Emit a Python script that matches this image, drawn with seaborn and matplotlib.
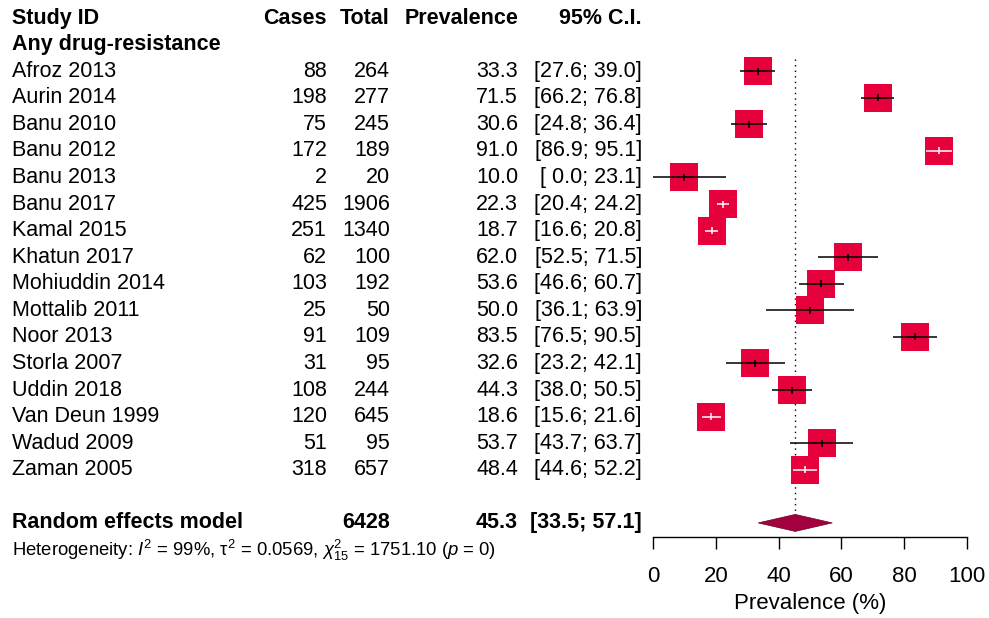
import matplotlib
matplotlib.use("Agg")
import matplotlib.pyplot as plt
import matplotlib.transforms as mtransforms
from matplotlib.patches import Polygon
import pandas as pd
import seaborn as sns

# ── Data ──────────────────────────────────────────────────────────────────
studies = [
    "Afroz 2013", "Aurin 2014", "Banu 2010", "Banu 2012", "Banu 2013",
    "Banu 2017", "Kamal 2015", "Khatun 2017", "Mohiuddin 2014",
    "Mottalib 2011", "Noor 2013", "Storla 2007", "Uddin 2018",
    "Van Deun 1999", "Wadud 2009", "Zaman 2005",
]
cases = [88, 198, 75, 172, 2, 425, 251, 62, 103, 25, 91, 31, 108, 120, 51, 318]
totals = [264, 277, 245, 189, 20, 1906, 1340, 100, 192, 50, 109, 95, 244, 645, 95, 657]
prevalence = [33.3, 71.5, 30.6, 91.0, 10.0, 22.3, 18.7, 62.0, 53.6, 50.0,
              83.5, 32.6, 44.3, 18.6, 53.7, 48.4]
ci_low = [27.6, 66.2, 24.8, 86.9, 0.0, 20.4, 16.6, 52.5, 46.6, 36.1,
          76.5, 23.2, 38.0, 15.6, 43.7, 44.6]
ci_high = [39.0, 76.8, 36.4, 95.1, 23.1, 24.2, 20.8, 71.5, 60.7, 63.9,
           90.5, 42.1, 50.5, 21.6, 63.7, 52.2]

re_total = 6428
re_est = 45.3
re_low = 33.5
re_high = 57.1
het_text = ("Heterogeneity: $\\mathit{I}^2$ = 99%, τ$^2$ = 0.0569, "
            "$\\chi^2_{15}$ = 1751.10 ($\\mathit{p}$ = 0)")
x_ticks = [0, 20, 40, 60, 80, 100]

SQUARE = "#E6003C"
DIAMOND = "#A3003F"

# ── Layout ────────────────────────────────────────────────────────────────
sns.set_theme(style="white")
plt.rcParams["font.family"] = ["Liberation Sans", "DejaVu Sans"]
plt.rcParams["mathtext.fontset"] = "custom"
plt.rcParams["mathtext.rm"] = "Liberation Sans"
plt.rcParams["mathtext.it"] = "Liberation Sans:italic"
for key in ["text.color", "axes.labelcolor", "xtick.color", "ytick.color"]:
    plt.rcParams[key] = "black"

W, H = 989, 618
fig = plt.figure(figsize=(W / 100, H / 100), dpi=100)
ax = fig.add_axes([653 / W, 1 - 537 / H, 314 / W, 537 / H])
ax.set_xlim(0, 100)
ax.set_ylim(19.53, -0.68)

df = pd.DataFrame({
    "study": studies, "cases": cases, "total": totals,
    "prev": prevalence, "lo": ci_low, "hi": ci_high,
})
df["row"] = range(2, 2 + len(df))
re_row = df["row"].max() + 2

# ── Forest part ───────────────────────────────────────────────────────────
sns.scatterplot(data=df, x="prev", y="row", marker="s", s=378, color=SQUARE,
                linewidth=0, ax=ax, legend=False, zorder=2, clip_on=False)

sq_width = 27 / 3.14  # square side in data units
for _, r in df.iterrows():
    col = "white" if (r.hi - r.lo) < sq_width else "black"
    ax.hlines(r.row, r.lo, r.hi, color=col, lw=1.1, zorder=3)
    ax.vlines(r.prev, r.row - 0.13, r.row + 0.13, color=col, lw=1.1, zorder=3)

ax.vlines(re_est, 1.55, re_row - 0.32, color="black", lw=1.0,
          linestyle=(0, (1, 3)), zorder=1)
diamond = Polygon([(re_low, re_row), (re_est, re_row - 0.32),
                   (re_high, re_row), (re_est, re_row + 0.32)],
                  closed=True, facecolor=DIAMOND, edgecolor="#6a0025",
                  lw=0.5, zorder=3)
ax.add_patch(diamond)

for side in ["top", "left", "right"]:
    ax.spines[side].set_visible(False)
ax.spines["bottom"].set_bounds(0, 100)
ax.spines["bottom"].set_color("black")
ax.spines["bottom"].set_linewidth(1.0)
ax.set_xticks(x_ticks)
ax.set_yticks([])
ax.tick_params(axis="x", direction="out", length=8.6, width=1.0, pad=12,
               labelsize=16, color="black", bottom=True)
ax.set_xlabel("Prevalence (%)", fontsize=16)
ax.xaxis.set_label_coords(0.5, -0.105)
ax.set_ylabel("")

# ── Table part ────────────────────────────────────────────────────────────
tr = mtransforms.blended_transform_factory(fig.transFigure, ax.transData)
x_name, x_cases, x_total, x_prev, x_ci = 12 / W, 327 / W, 390 / W, 518 / W, 642 / W
fs = 15.5


def put(x, y, s, ha="right", bold=False, size=fs):
    ax.text(x, y, s, transform=tr, ha=ha, va="center", fontsize=size,
            fontweight="bold" if bold else "normal", clip_on=False)


put(x_name, 0, "Study ID", ha="left", bold=True)
put(x_cases, 0, "Cases", bold=True)
put(x_total, 0, "Total", bold=True)
put(x_prev, 0, "Prevalence", bold=True)
put(x_ci, 0, "95% C.I.", bold=True)
put(x_name, 1, "Any drug-resistance", ha="left", bold=True)

for _, r in df.iterrows():
    put(x_name, r.row, r.study, ha="left")
    put(x_cases, r.row, f"{int(r.cases)}")
    put(x_total, r.row, f"{int(r.total)}")
    put(x_prev, r.row, f"{r.prev:.1f}")
    put(x_ci, r.row, f"[{r.lo:4.1f}; {r.hi:4.1f}]")

put(x_name, re_row, "Random effects model", ha="left", bold=True)
put(x_total, re_row, f"{re_total}", bold=True)
put(x_prev, re_row, f"{re_est:.1f}", bold=True)
put(x_ci, re_row, f"[{re_low:.1f}; {re_high:.1f}]", bold=True)
put(x_name, re_row + 1.02, het_text, ha="left", size=13.3)

fig.savefig("out.png", dpi=100)
